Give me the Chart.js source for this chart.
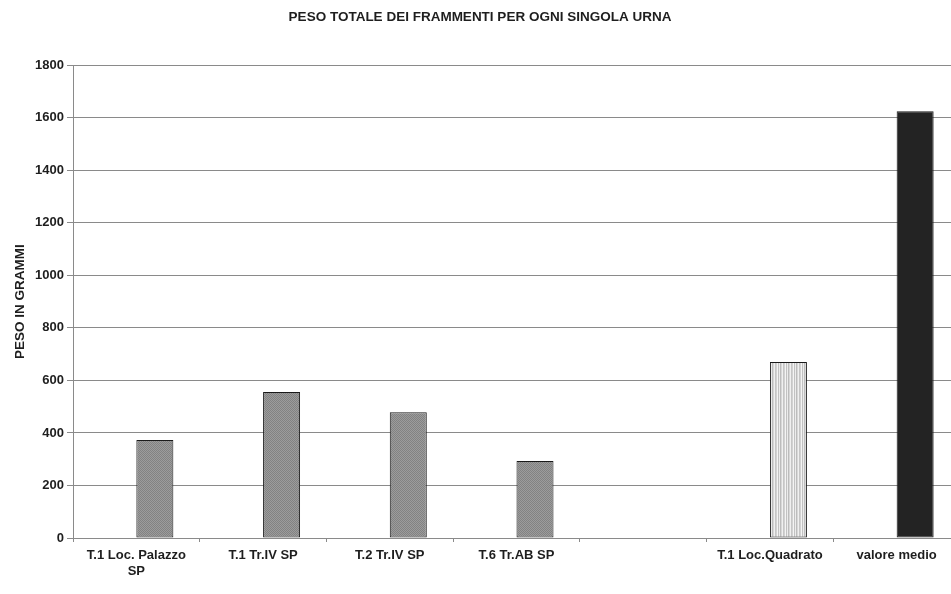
<!DOCTYPE html>
<html>
<head>
<meta charset="utf-8">
<title>Peso totale dei frammenti</title>
<script src="https://cdn.jsdelivr.net/npm/chart.js@4"></script>
<style>
  html, body { margin: 0; padding: 0; background: #fff; overflow: hidden; }
  #wrap { width: 951px; height: 594px; overflow: hidden; }
</style>
</head>
<body>
<div id="wrap">
  <canvas id="urnChart" width="966" height="594"></canvas>
</div>
<script>
//categories on the x axis (first one wraps on two lines)
const categories = [["T.1 Loc. Palazzo", "SP"], "T.1 Tr.IV SP", "T.2 Tr.IV SP", "T.6 Tr.AB SP", "", "T.1 Loc.Quadrato", "valore medio"];

//weight of the fragments for each urn, in grams
const pesoGrammi = [373, 556, 479, 293, null, 670, 1625];

//empty companion series, it only keeps the slot on the left of each group
const serieVuota = [null, null, null, null, null, null, null];

//y axis ticks
const yMin = 0;
const yMax = 1800;
const yStep = 200;

//fine grey dotted fill used by the single urns
function makeHatch() {
  const c = document.createElement("canvas");
  c.width = 2;
  c.height = 2;
  const g = c.getContext("2d");
  g.fillStyle = "#9c9c9c";
  g.fillRect(0, 0, 2, 2);
  g.fillStyle = "#828282";
  g.fillRect(0, 0, 1, 1);
  g.fillRect(1, 1, 1, 1);
  return g.createPattern(c, "repeat");
}

//light vertical stripes
function makeStripes() {
  const cols = ["#d2d2d2", "#f4f4f4", "#c2c2c2", "#ececec", "#bcbcbc", "#d8d8d8", "#f0f0f0", "#c6c6c6"];
  const c = document.createElement("canvas");
  c.width = cols.length;
  c.height = 1;
  const g = c.getContext("2d");
  cols.forEach((col, i) => {
    g.fillStyle = col;
    g.fillRect(i, 0, 1, 1);
  });
  return g.createPattern(c, "repeat");
}

const hatch = makeHatch();
const stripes = makeStripes();
const barFills = [hatch, hatch, hatch, hatch, hatch, stripes, "#232323"];

const fontFamily = "'Liberation Sans', Arial, sans-serif";
const tickFont = { family: fontFamily, size: 13, weight: "bold" };

new Chart(document.getElementById("urnChart"), {
  type: "bar",

  data: {
    labels: categories,

    datasets: [
      {
        label: "",
        data: serieVuota,
        backgroundColor: "#ffffff"
      },
      {
        label: "peso",
        data: pesoGrammi,
        backgroundColor: barFills,
        borderColor: "#1a1a1a",
        borderWidth: 1,
        borderSkipped: false
      }
    ]
  },

  options: {
    responsive: false,
    animation: false,
    categoryPercentage: 0.584,
    barPercentage: 1,
    layout: { padding: { left: 0, right: 6, top: 0, bottom: 0 } },

    plugins: {
      legend: { display: false },
      tooltip: { enabled: false },
      title: {
        display: true,
        text: "PESO TOTALE DEI FRAMMENTI PER OGNI SINGOLA URNA",
        color: "#1e1e1e",
        font: { family: fontFamily, size: 13.5, weight: "bold" },
        padding: { top: 9, bottom: 40 }
      }
    },

    scales: {
      x: {
        grid: {
          drawOnChartArea: false,
          drawTicks: true,
          tickLength: 4,
          color: "#8a8a8a"
        },
        border: { color: "#8a8a8a", width: 1 },
        ticks: {
          color: "#1e1e1e",
          font: tickFont,
          padding: 6,
          maxRotation: 0,
          autoSkip: false
        },
        afterFit: (scale) => { scale.height = 56; }
      },

      y: {
        min: yMin,
        max: yMax,
        grid: {
          color: "#8a8a8a",
          lineWidth: 1,
          tickLength: 6
        },
        border: { color: "#8a8a8a", width: 1 },
        ticks: {
          stepSize: yStep,
          color: "#1e1e1e",
          font: tickFont,
          padding: 3,
          callback: (value) => String(value) //no thousands separator
        },
        title: {
          display: true,
          text: "PESO IN GRAMMI",
          color: "#1e1e1e",
          font: { family: fontFamily, size: 13.5, weight: "bold" },
          padding: { top: 12, bottom: 0 }
        },
        afterFit: (scale) => { scale.width = 73; }
      }
    }
  }
});
</script>
</body>
</html>
